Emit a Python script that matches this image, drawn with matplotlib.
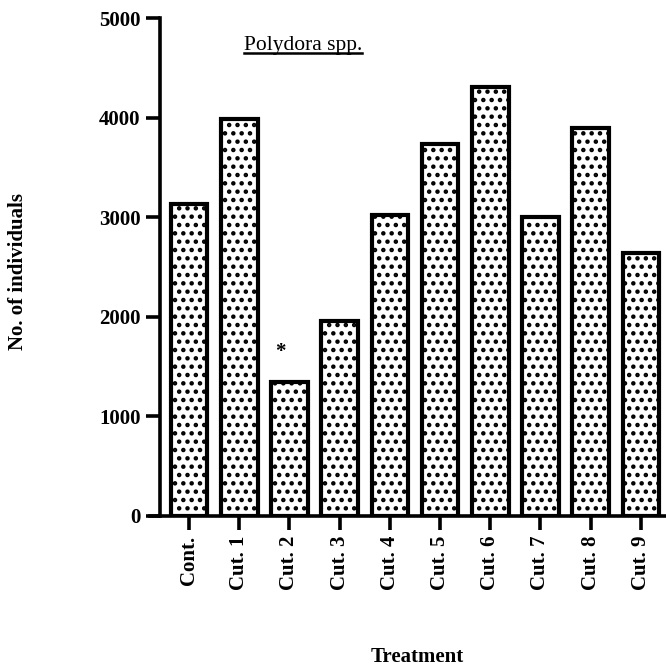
import matplotlib
matplotlib.use('Agg')
from matplotlib import pyplot as plt
from matplotlib.lines import Line2D

# 처리구별 개체수
treatments = ['Cont.', 'Cut. 1', 'Cut. 2', 'Cut. 3', 'Cut. 4', 'Cut. 5', 'Cut. 6', 'Cut. 7', 'Cut. 8', 'Cut. 9']
counts = [3130, 3990, 1345, 1955, 3020, 3740, 4310, 3000, 3900, 2640]
yticks = [0, 1000, 2000, 3000, 4000, 5000]

plt.rcParams['font.family'] = ['Liberation Serif', 'DejaVu Serif']
plt.rcParams['hatch.linewidth'] = 2.0

fig = plt.figure(figsize=(6.66, 6.71), dpi=100)
ax = fig.add_axes([0.225, 0.231, 0.775, 0.742])

# 축 위치 먼저 (set_position이 눈금 설정을 초기화함)
ax.spines['top'].set_visible(False)
ax.spines['right'].set_visible(False)
ax.spines['left'].set_position(('data', -0.58))
ax.spines['left'].set_linewidth(2.6)
ax.spines['bottom'].set_linewidth(2.6)

x = list(range(len(treatments)))
ax.bar(x, counts, width=0.73, color='white', edgecolor='black', linewidth=3, hatch='..')

# 유의차 표시
ax.text(1.82, counts[2] + 300, '*', ha='center', va='center', fontsize=15, fontweight='bold')

ax.set_xlim(-0.78, 9.5)
ax.set_ylim(0, 5000)
ax.set_yticks(yticks)
ax.set_xticks(x)
ax.set_xticklabels(treatments, rotation=90, fontsize=15, fontweight='bold')
ax.set_yticklabels([str(v) for v in yticks], fontsize=15, fontweight='bold')
ax.tick_params(axis='both', direction='out', length=10, width=2.6, pad=4)

title = ax.text(2.27, 4720, 'Polydora spp.', ha='center', va='center', fontsize=15.5)

fig.text(0.027, 0.595, 'No. of individuals', rotation=90, ha='center', va='center',
         fontsize=15, fontweight='bold')
fig.text(0.626, 0.021, 'Treatment', ha='center', va='center', fontsize=15, fontweight='bold')

# 제목 밑줄
fig.canvas.draw()
bb = title.get_window_extent().transformed(fig.transFigure.inverted())
fig.add_artist(Line2D([bb.x0, bb.x1], [bb.y0 + 0.003, bb.y0 + 0.003], color='black',
                      linewidth=1.8, transform=fig.transFigure))

plt.savefig('out.png', dpi=100)
